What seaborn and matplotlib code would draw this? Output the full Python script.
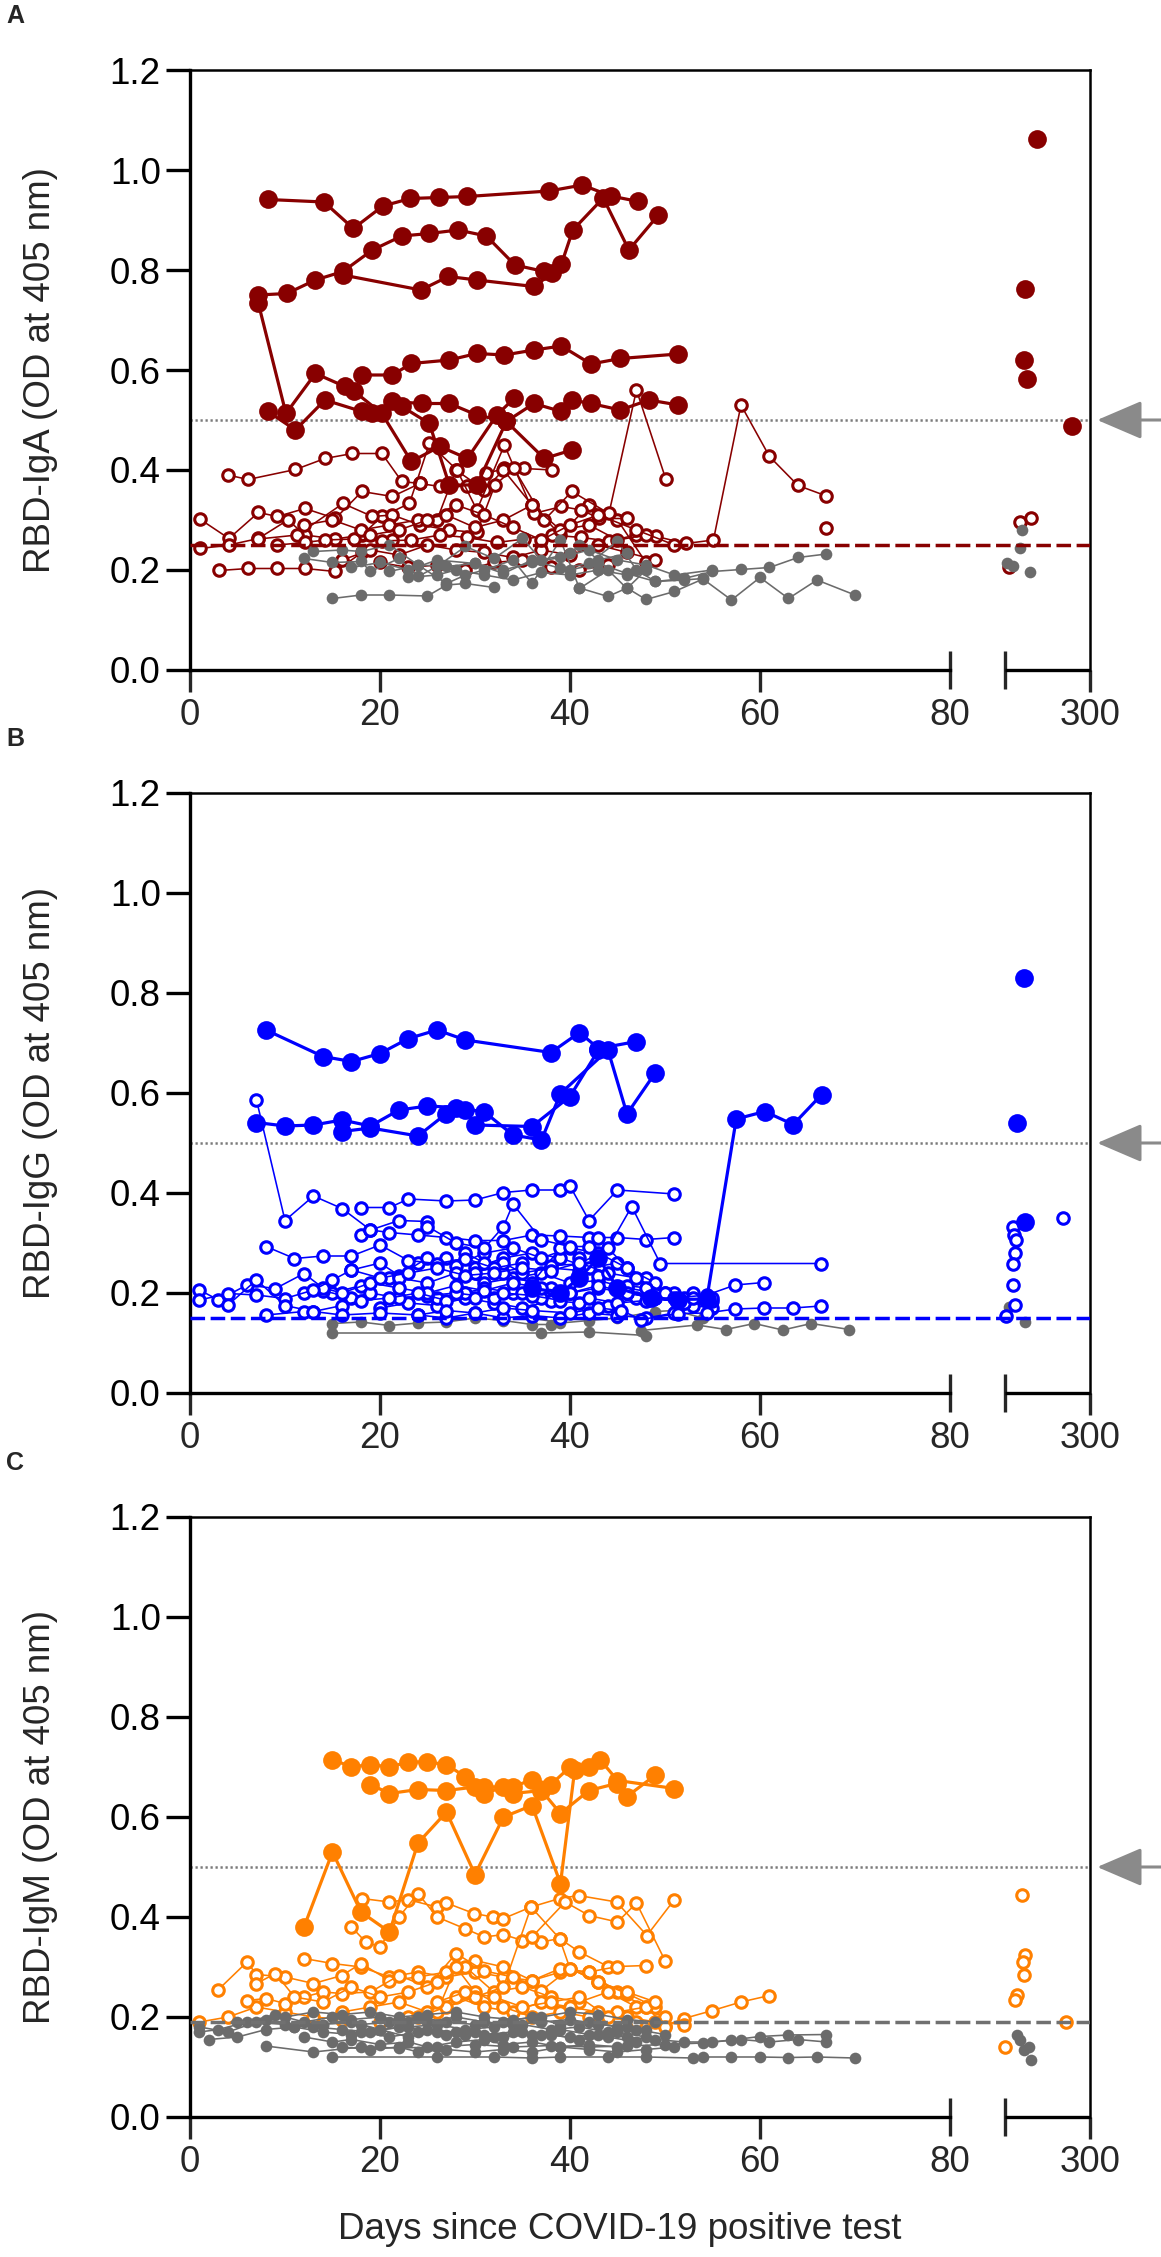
import numpy as np
import pandas as pd
import matplotlib
matplotlib.use("Agg")
import matplotlib.pyplot as plt
import seaborn as sns

# ---------------------------------------------------------------- data
# Panel A: RBD-IgA
IGA_FILLED_DAYS = [
    [8.2, 14.1, 17.2, 20.3, 23.2, 26.2, 29.2, 37.8, 41.3, 44.3, 47.2],
    [7.2, 10.2, 13.2, 16.1, 19.2, 22.3, 25.2, 28.2, 31.2, 34.2, 37.3, 39.1, 40.3, 43.5, 46.2, 49.3],
    [16.1, 24.3, 27.2, 30.2, 36.2, 38.1],
    [18.1, 21.3, 23.3, 27.3, 30.2, 33.1, 36.2, 39.1, 42.2, 45.3, 51.4],
    [7.2, 10.1, 13.2, 16.3, 17.3, 20.2, 23.3, 26.3, 29.2, 32.3, 34.1],
    [8.2, 11.1, 14.2, 18.1, 19.2, 21.3, 24.4, 27.3, 30.2, 33.3, 36.2, 39.1, 40.2, 42.2, 45.3, 48.3, 51.4],
    [22.3, 25.2, 27.3, 30.2, 33.3, 37.3, 40.2],
]
IGA_FILLED_OD = [
    [0.941, 0.936, 0.883, 0.928, 0.943, 0.945, 0.947, 0.958, 0.970, 0.948, 0.937],
    [0.750, 0.753, 0.780, 0.797, 0.840, 0.868, 0.873, 0.880, 0.868, 0.810, 0.797, 0.812, 0.880, 0.944, 0.840, 0.910],
    [0.790, 0.760, 0.787, 0.780, 0.767, 0.793],
    [0.590, 0.590, 0.613, 0.620, 0.633, 0.630, 0.640, 0.648, 0.612, 0.623, 0.632],
    [0.733, 0.513, 0.593, 0.567, 0.557, 0.513, 0.417, 0.447, 0.423, 0.510, 0.543],
    [0.517, 0.480, 0.540, 0.517, 0.513, 0.537, 0.533, 0.533, 0.510, 0.497, 0.533, 0.517, 0.540, 0.533, 0.520, 0.540, 0.530],
    [0.527, 0.493, 0.370, 0.370, 0.497, 0.423, 0.440],
]
IGA_OPEN_DAYS = [
    [4.0, 6.1, 11.1, 14.2, 17.1, 20.2, 22.3, 24.2],
    [1.1, 4.1, 7.2, 9.2, 12.1, 15.3, 18.1, 21.3, 24.2, 26.3, 29.2, 31.2, 33.1, 35.2, 38.1],
    [1.1, 4.1, 7.2, 10.3, 12.1, 15.3, 18.1, 20.2, 23.1, 25.2, 28.1, 30.2, 33.1, 36.2, 39.1, 41.2, 43.1, 46.0],
    [3.1, 6.1, 9.2, 12.1, 15.3, 18.1, 21.3],
    [7.2, 11.3, 16.1, 19.2, 21.3, 24.2, 27.3, 30.2, 32.1, 34.1, 37.3, 40.2, 44.1, 47.0, 50.1],
    [9.2, 12.1, 14.2, 17.3, 20.2, 23.3, 26.3, 29.2, 32.3, 35.2, 38.1, 41.2, 44.1, 47.0, 49.1, 52.2, 55.1, 58.0, 61.0, 64.0, 67.0],
    [12, 15, 18, 21, 24, 27, 30, 33, 36, 39, 42, 45, 48],
    [16, 19, 22, 25, 28, 31, 34, 37, 40, 43, 46, 49],
    [19, 22, 25, 28, 31, 34, 37, 40, 43, 47, 51],
    [20, 23, 26, 29, 32, 35, 38, 41, 44],
    [26, 28, 31, 33, 36, 39, 42, 45, 48],
    [67.0],
]
IGA_OPEN_OD = [
    [0.390, 0.381, 0.401, 0.423, 0.433, 0.433, 0.377, 0.373],
    [0.301, 0.263, 0.315, 0.307, 0.323, 0.303, 0.357, 0.347, 0.373, 0.367, 0.367, 0.393, 0.403, 0.403, 0.400],
    [0.243, 0.250, 0.263, 0.300, 0.270, 0.262, 0.270, 0.307, 0.333, 0.453, 0.400, 0.320, 0.450, 0.313, 0.327, 0.320, 0.303, 0.303],
    [0.199, 0.203, 0.203, 0.203, 0.197, 0.235, 0.260],
    [0.262, 0.270, 0.333, 0.307, 0.310, 0.290, 0.280, 0.275, 0.370, 0.403, 0.300, 0.357, 0.313, 0.560, 0.381],
    [0.250, 0.255, 0.260, 0.262, 0.258, 0.260, 0.270, 0.265, 0.255, 0.262, 0.270, 0.265, 0.258, 0.270, 0.267, 0.253, 0.260, 0.530, 0.427, 0.369, 0.348],
    [0.290, 0.300, 0.280, 0.290, 0.300, 0.310, 0.285, 0.300, 0.330, 0.280, 0.290, 0.260, 0.270],
    [0.220, 0.240, 0.230, 0.250, 0.240, 0.235, 0.225, 0.240, 0.230, 0.250, 0.235, 0.220],
    [0.270, 0.280, 0.300, 0.330, 0.310, 0.285, 0.260, 0.290, 0.310, 0.280, 0.250],
    [0.215, 0.205, 0.210, 0.200, 0.215, 0.220, 0.205, 0.200, 0.210],
    [0.300, 0.400, 0.360, 0.400, 0.330, 0.270, 0.330, 0.300, 0.215],
    [0.284],
]
IGA_CTRL_DAYS = [
    [40, 43, 46, 49, 52, 55, 58, 61, 64, 67],
    [41, 44, 46, 48, 51, 54, 57, 60, 63, 66, 70],
    [15, 18, 21, 25, 27, 29, 32],
    [13, 16, 18, 21, 24, 27, 30, 33, 36, 39, 42, 45, 47, 49, 52, 54],
    [12, 15, 18, 19, 22, 24, 26, 29, 32, 35, 37, 40, 41, 43, 46],
    [21, 24, 27, 29, 31, 34, 36, 39, 41, 44, 46, 48],
    [17, 20, 23, 26, 30, 33, 36, 39, 42, 45, 48, 51, 55],
    [23, 26, 28, 31, 34, 37, 40, 43, 46],
]
IGA_CTRL_OD = [
    [0.200, 0.213, 0.193, 0.177, 0.183, 0.197, 0.201, 0.205, 0.225, 0.232],
    [0.164, 0.147, 0.164, 0.141, 0.157, 0.182, 0.140, 0.185, 0.143, 0.180, 0.150],
    [0.143, 0.150, 0.150, 0.148, 0.170, 0.173, 0.165],
    [0.237, 0.240, 0.237, 0.250, 0.210, 0.207, 0.213, 0.193, 0.220, 0.203, 0.213, 0.257, 0.200, 0.177, 0.180, 0.183],
    [0.223, 0.215, 0.217, 0.197, 0.223, 0.187, 0.207, 0.247, 0.223, 0.263, 0.220, 0.233, 0.250, 0.220, 0.233],
    [0.197, 0.210, 0.173, 0.190, 0.200, 0.220, 0.173, 0.260, 0.163, 0.200, 0.163, 0.200],
    [0.205, 0.215, 0.200, 0.220, 0.213, 0.200, 0.215, 0.225, 0.240, 0.220, 0.210, 0.190, 0.200],
    [0.185, 0.190, 0.200, 0.190, 0.180, 0.195, 0.190, 0.200, 0.190],
]
IGA_LATE_FILLED_DAYS = [238, 224, 222, 226, 279]
IGA_LATE_FILLED_OD = [1.063, 0.762, 0.620, 0.582, 0.487]
IGA_LATE_OPEN_DAYS = [218, 231, 205]
IGA_LATE_OPEN_OD = [0.295, 0.303, 0.205]
IGA_LATE_CTRL_DAYS = [220, 218, 202, 210, 229]
IGA_LATE_CTRL_OD = [0.280, 0.243, 0.213, 0.207, 0.195]

# Panel B: RBD-IgG
IGG_FILLED_DAYS = [
    [8, 14, 17, 20, 23, 26, 29, 38, 41, 43, 47],
    [7, 10, 13, 16, 19, 22, 25, 28, 31, 34, 37, 39, 44, 46, 49],
    [16, 19, 24, 27, 29, 30, 36, 40, 43],
    [36, 39, 41, 43, 45, 48.5, 51.4, 54.4, 57.5, 60.5, 63.5, 66.5],
]
IGG_FILLED_OD = [
    [0.726, 0.673, 0.663, 0.679, 0.709, 0.726, 0.706, 0.681, 0.721, 0.689, 0.703],
    [0.541, 0.534, 0.536, 0.546, 0.534, 0.566, 0.574, 0.571, 0.562, 0.516, 0.506, 0.599, 0.686, 0.558, 0.641],
    [0.523, 0.530, 0.514, 0.559, 0.567, 0.536, 0.533, 0.593, 0.686],
    [0.210, 0.200, 0.230, 0.270, 0.210, 0.190, 0.187, 0.188, 0.548, 0.563, 0.537, 0.597],
]
IGG_OPEN_DAYS = [
    [18, 21, 23, 27, 30, 33, 36, 39, 40, 42, 45, 51],
    [18, 19, 21, 24, 27, 30, 33, 36, 39, 42, 45, 48, 51],
    [7, 10, 13, 16, 19, 22, 25],
    [8, 11, 14, 17, 20, 23, 26, 29, 32, 35],
    [25, 28, 31, 33, 34, 37, 40, 42],
    [38, 41, 44, 46.5, 49.5, 66.4],
    [1, 3, 6, 9, 12, 14, 16, 19, 22, 25, 28, 31, 34, 37, 40, 43, 46, 49, 52],
    [1, 4, 7, 10, 13, 15, 17, 20, 23, 26, 29, 32, 35, 38, 41, 44, 47, 50, 53],
    [4, 7, 10, 13, 16, 18, 21, 24, 27, 30, 33, 36, 39, 42, 45, 48, 51, 54.4, 57.4, 60.4],
    [8, 12, 13, 16, 20, 24, 27, 30, 33, 36, 40, 43, 45.4, 47.5, 51.4, 54.4, 57.4, 60.4, 63.5, 66.4],
    [15, 18, 21, 24, 27, 30, 33, 36, 39, 42, 45, 48],
    [17, 20, 22, 25, 28, 31, 34, 37, 40, 43, 46],
    [20, 23, 26, 29, 32, 35, 38, 41, 44, 47, 50, 53, 55],
    [22, 25, 28, 31, 34, 37, 40, 43, 46, 49, 52],
    [24, 27, 30, 33, 36, 39, 42, 45, 48, 51],
    [26, 29, 31, 34, 37, 40, 43, 46, 49, 52, 55],
    [29, 31, 33, 36, 39, 41, 43, 46, 49],
    [12, 14, 17, 19, 22, 25, 28, 32, 35, 38],
    [30, 33, 35, 38, 41, 43, 46, 48, 51, 53, 55],
]
IGG_OPEN_OD = [
    [0.371, 0.371, 0.388, 0.384, 0.386, 0.401, 0.406, 0.406, 0.414, 0.345, 0.406, 0.398],
    [0.316, 0.326, 0.321, 0.316, 0.311, 0.305, 0.305, 0.316, 0.314, 0.311, 0.311, 0.307, 0.311],
    [0.586, 0.345, 0.394, 0.369, 0.326, 0.345, 0.343],
    [0.293, 0.269, 0.274, 0.274, 0.296, 0.265, 0.259, 0.269, 0.250, 0.260],
    [0.333, 0.300, 0.290, 0.333, 0.378, 0.306, 0.293, 0.293],
    [0.255, 0.258, 0.290, 0.373, 0.259, 0.259],
    [0.206, 0.186, 0.216, 0.209, 0.239, 0.210, 0.200, 0.220, 0.210, 0.200, 0.215, 0.205, 0.220, 0.210, 0.200, 0.215, 0.200, 0.190, 0.180],
    [0.186, 0.199, 0.196, 0.189, 0.206, 0.226, 0.246, 0.230, 0.240, 0.250, 0.235, 0.240, 0.250, 0.245, 0.260, 0.240, 0.230, 0.200, 0.190],
    [0.176, 0.226, 0.175, 0.163, 0.175, 0.185, 0.190, 0.200, 0.185, 0.190, 0.200, 0.195, 0.185, 0.190, 0.180, 0.185, 0.190, 0.196, 0.216, 0.221],
    [0.156, 0.163, 0.163, 0.156, 0.160, 0.156, 0.165, 0.160, 0.170, 0.165, 0.160, 0.170, 0.165, 0.147, 0.159, 0.160, 0.168, 0.170, 0.170, 0.174],
    [0.200, 0.215, 0.230, 0.260, 0.270, 0.250, 0.270, 0.280, 0.270, 0.250, 0.260, 0.230],
    [0.246, 0.260, 0.235, 0.270, 0.255, 0.280, 0.290, 0.270, 0.290, 0.280, 0.250],
    [0.170, 0.180, 0.175, 0.190, 0.180, 0.170, 0.185, 0.180, 0.175, 0.190, 0.200, 0.175, 0.170],
    [0.230, 0.220, 0.240, 0.220, 0.230, 0.240, 0.220, 0.225, 0.210, 0.200, 0.190],
    [0.156, 0.150, 0.160, 0.150, 0.155, 0.150, 0.160, 0.155, 0.150, 0.160],
    [0.190, 0.200, 0.210, 0.200, 0.190, 0.200, 0.210, 0.200, 0.190, 0.180, 0.185],
    [0.280, 0.260, 0.240, 0.220, 0.290, 0.270, 0.310, 0.250, 0.220],
    [0.200, 0.205, 0.190, 0.200, 0.190, 0.195, 0.200, 0.190, 0.200, 0.210],
    [0.240, 0.260, 0.240, 0.250, 0.245, 0.235, 0.215, 0.210, 0.200, 0.200, 0.190],
]
IGG_CTRL_DAYS = [
    [15, 37, 42, 48],
    [47.5, 53.4, 56.4, 59.4, 62.4, 65.4, 69.4],
    [15, 18, 21, 24, 27, 30, 33, 36, 38, 39],
    [36, 39, 42, 45, 49, 51, 54],
]
IGG_CTRL_OD = [
    [0.120, 0.120, 0.122, 0.115],
    [0.125, 0.136, 0.127, 0.139, 0.126, 0.139, 0.127],
    [0.139, 0.142, 0.135, 0.140, 0.142, 0.150, 0.145, 0.137, 0.137, 0.152],
    [0.150, 0.140, 0.145, 0.150, 0.163, 0.165, 0.150],
]
IGG_LATE_FILLED_DAYS = [222, 214, 224]
IGG_LATE_FILLED_OD = [0.830, 0.540, 0.343]
IGG_LATE_OPEN_DAYS = [209, 211, 213, 212, 210, 209, 212, 201, 268]
IGG_LATE_OPEN_OD = [0.333, 0.316, 0.306, 0.281, 0.259, 0.216, 0.176, 0.154, 0.350]
IGG_LATE_CTRL_DAYS = [205, 224]
IGG_LATE_CTRL_OD = [0.173, 0.143]

# Panel C: RBD-IgM
IGM_FILLED_DAYS = [
    [15, 17, 19, 21, 23, 25, 27, 29, 31, 34, 36, 38, 40, 42, 43.2, 45, 51],
    [19, 21, 24, 27, 30, 31, 33, 34, 37, 39, 42, 44.9, 46, 49],
    [12, 15, 18, 21, 24, 27, 30, 33, 36, 39, 40.5],
]
IGM_FILLED_OD = [
    [0.715, 0.700, 0.705, 0.700, 0.710, 0.710, 0.705, 0.680, 0.660, 0.660, 0.675, 0.665, 0.700, 0.700, 0.714, 0.673, 0.657],
    [0.665, 0.647, 0.655, 0.653, 0.660, 0.647, 0.660, 0.647, 0.653, 0.607, 0.653, 0.667, 0.641, 0.684],
    [0.380, 0.530, 0.410, 0.370, 0.548, 0.610, 0.485, 0.600, 0.623, 0.467, 0.695],
]
IGM_OPEN_DAYS = [
    [18.1, 21, 22.9, 26, 27, 29.9, 31.9, 33, 35.9, 38.9, 40.9, 44.9, 48.1, 51],
    [17, 18.5, 20, 22, 24, 26, 28.9, 31, 33, 35, 37, 38.9, 41, 44],
    [12, 15, 18, 21, 24, 27, 30, 33, 36, 39, 42, 45, 48, 50, 52, 55, 58, 61],
    [3, 6, 7, 10, 13, 16, 18, 21, 24, 27, 30, 33, 36, 39, 42, 45, 48],
    [6, 8, 10, 12, 14, 16, 19, 22, 25, 28, 31, 34, 37, 40, 43, 46, 49],
    [7, 9, 11, 14, 17, 20, 23, 26, 29, 32, 35, 38, 41, 44, 47, 50],
    [16, 19, 22, 25, 28, 31, 34, 37, 40, 43, 46, 49, 52],
    [20, 23, 26, 28, 30, 33, 36, 39, 42, 45, 48],
    [24, 27, 30, 33, 35.9, 38.9, 40, 43, 46, 49],
    [26, 29, 32, 35, 38, 41, 44, 47, 50],
    [1, 4, 7, 10, 13, 16],
    [36, 39.5, 42, 45, 47, 50],
]
IGM_OPEN_OD = [
    [0.437, 0.430, 0.435, 0.420, 0.428, 0.407, 0.400, 0.397, 0.420, 0.437, 0.443, 0.430, 0.363, 0.435],
    [0.380, 0.350, 0.340, 0.400, 0.447, 0.400, 0.377, 0.360, 0.365, 0.353, 0.350, 0.357, 0.330, 0.301],
    [0.317, 0.307, 0.300, 0.280, 0.290, 0.280, 0.290, 0.280, 0.273, 0.290, 0.290, 0.250, 0.220, 0.183, 0.197, 0.213, 0.230, 0.243],
    [0.255, 0.310, 0.285, 0.280, 0.267, 0.283, 0.307, 0.273, 0.280, 0.290, 0.313, 0.300, 0.273, 0.297, 0.290, 0.301, 0.303],
    [0.233, 0.237, 0.227, 0.240, 0.250, 0.247, 0.250, 0.283, 0.260, 0.327, 0.292, 0.280, 0.253, 0.297, 0.270, 0.247, 0.220],
    [0.267, 0.287, 0.240, 0.230, 0.260, 0.240, 0.250, 0.270, 0.300, 0.250, 0.260, 0.240, 0.230, 0.250, 0.220, 0.200],
    [0.210, 0.220, 0.230, 0.210, 0.240, 0.220, 0.210, 0.230, 0.220, 0.210, 0.200, 0.190, 0.185],
    [0.190, 0.200, 0.210, 0.300, 0.250, 0.220, 0.200, 0.210, 0.200, 0.210, 0.220],
    [0.200, 0.220, 0.240, 0.260, 0.420, 0.357, 0.297, 0.270, 0.250, 0.230],
    [0.230, 0.250, 0.240, 0.220, 0.230, 0.240, 0.200, 0.190, 0.180],
    [0.190, 0.200, 0.220, 0.210, 0.200, 0.195],
    [0.360, 0.430, 0.403, 0.390, 0.428, 0.313],
]
IGM_CTRL_DAYS = [
    [15, 26, 32, 36, 39, 44, 48, 53, 54, 57, 60, 63, 66, 70],
    [8, 13, 18, 22, 26, 30, 34, 38, 42, 46, 50, 54, 57, 60, 63, 67],
    [1, 4, 7, 10, 13, 16, 19, 22, 25, 28, 31, 34, 37, 40, 43, 46, 49, 52, 55, 58, 61, 64, 67],
    [1, 3, 6, 9, 12, 15, 18, 21, 24, 27, 30, 33, 36, 39, 42, 45, 48],
    [2, 5, 8, 11, 14, 17, 20, 23, 26, 29, 32, 35, 38, 41, 44, 47],
    [10, 13, 16, 19, 22, 25, 28, 31, 34, 37, 40, 43, 46, 49],
    [12, 15, 17, 20, 23, 25, 28, 31, 33, 36, 39, 42, 45],
    [14, 17, 20, 23, 26, 29, 32, 35, 38, 41, 44, 47, 50],
    [16, 19, 22, 24, 27, 30, 33, 36, 39, 42, 45, 48, 51],
    [18, 21, 24, 27, 30, 33, 36, 39, 42, 45, 48],
    [5, 8, 11, 14, 17, 20, 23],
    [22, 25, 28, 31, 34, 37, 40, 43, 46],
]
IGM_CTRL_OD = [
    [0.120, 0.120, 0.120, 0.118, 0.120, 0.120, 0.120, 0.118, 0.120, 0.120, 0.120, 0.119, 0.120, 0.118],
    [0.142, 0.130, 0.140, 0.138, 0.140, 0.145, 0.140, 0.143, 0.140, 0.142, 0.145, 0.148, 0.154, 0.161, 0.164, 0.165],
    [0.180, 0.170, 0.190, 0.185, 0.180, 0.175, 0.170, 0.180, 0.175, 0.170, 0.165, 0.170, 0.165, 0.160, 0.165, 0.160, 0.155, 0.150, 0.150, 0.155, 0.150, 0.155, 0.150],
    [0.170, 0.175, 0.190, 0.205, 0.190, 0.200, 0.185, 0.190, 0.200, 0.190, 0.185, 0.190, 0.200, 0.185, 0.190, 0.180, 0.175],
    [0.155, 0.160, 0.175, 0.180, 0.170, 0.165, 0.175, 0.160, 0.170, 0.165, 0.160, 0.170, 0.165, 0.155, 0.160, 0.150],
    [0.200, 0.210, 0.205, 0.210, 0.200, 0.205, 0.210, 0.200, 0.195, 0.200, 0.210, 0.205, 0.195, 0.190],
    [0.160, 0.150, 0.155, 0.145, 0.150, 0.140, 0.150, 0.155, 0.145, 0.150, 0.140, 0.145, 0.140],
    [0.185, 0.190, 0.175, 0.180, 0.185, 0.175, 0.180, 0.185, 0.175, 0.180, 0.170, 0.175, 0.165],
    [0.140, 0.135, 0.140, 0.130, 0.135, 0.130, 0.135, 0.130, 0.140, 0.135, 0.130, 0.135, 0.140],
    [0.170, 0.160, 0.170, 0.165, 0.170, 0.160, 0.165, 0.175, 0.165, 0.170, 0.160],
    [0.190, 0.195, 0.180, 0.185, 0.195, 0.200, 0.190],
    [0.195, 0.190, 0.200, 0.190, 0.185, 0.190, 0.195, 0.185, 0.180],
]
IGM_LATE_OPEN_DAYS = [220, 223, 221, 222, 214, 212, 200, 272]
IGM_LATE_OPEN_OD = [0.445, 0.325, 0.310, 0.285, 0.245, 0.235, 0.140, 0.190]
IGM_LATE_CTRL_DAYS = [214, 218, 228, 222, 231]
IGM_LATE_CTRL_OD = [0.165, 0.155, 0.140, 0.135, 0.115]

POSITIVITY_CUTOFF = 0.5
BACKGROUND_CUTOFFS = [0.25, 0.15, 0.19]
Y_TICKS = [0.0, 0.2, 0.4, 0.6, 0.8, 1.0, 1.2]
X_MAJOR_TICKS = [0, 20, 40, 60, 300]
X_MINOR_TICKS = [80, 200]
YLABELS = ["RBD-IgA (OD at 405 nm)", "RBD-IgG (OD at 405 nm)", "RBD-IgM (OD at 405 nm)"]
PANEL_LETTERS = ["A", "B", "C"]
XLABEL = "Days since COVID-19 positive test"

# ---------------------------------------------------------------- style
sns.set_style("ticks")
plt.rcParams["font.family"] = ["Liberation Sans", "DejaVu Sans"]
FS = 26.5
GRAY = "#6b6b6b"
COLORS = ["#880000", "#0000ff", "#ff8000"]
DASH_COLORS = ["#880000", "#0000ff", "#707070"]

W, H = 1161, 2257
fig = plt.figure(figsize=(W / 100, H / 100), dpi=100)

# broken x axis: 0-80 days, gap, 200-300 days
BRK_D = [-100, 0, 80, 200, 300, 400]
BRK_U = [-100, 0, 80, 85.79, 94.74, 103.69]


def fwd(x):
    return np.interp(x, BRK_D, BRK_U)


def inv(u):
    return np.interp(u, BRK_U, BRK_D)


def to_frame(days, ods, tag):
    rows = []
    for i, (d, v) in enumerate(zip(days, ods)):
        if len(d) != len(v):
            raise ValueError(f"{tag}{i}: {len(d)} vs {len(v)}")
        rows += [(f"{tag}{i}", x, y) for x, y in zip(d, v)]
    return pd.DataFrame(rows, columns=["subject", "day", "od"])


def singles(days, ods, tag):
    return to_frame([[d] for d in days], [[v] for v in ods], tag)


def filled_style(c):
    return dict(color=c, linewidth=2.3, marker="o", markersize=13.5,
                markerfacecolor=c, markeredgecolor=c, markeredgewidth=0)


def open_style(c):
    return dict(color=c, linewidth=1.15, marker="o", markersize=8.3,
                markerfacecolor="white", markeredgecolor=c, markeredgewidth=2.2)


CTRL_STYLE = dict(color=GRAY, linewidth=1.15, marker="o", markersize=8.4,
                  markerfacecolor=GRAY, markeredgecolor=GRAY, markeredgewidth=0)


def draw(ax, df, style, z):
    sns.lineplot(data=df, x="day", y="od", units="subject", estimator=None,
                 sort=False, legend=False, ax=ax, zorder=z, **style)


panels = [
    dict(top=70, fd=IGA_FILLED_DAYS, fo=IGA_FILLED_OD, od=IGA_OPEN_DAYS, oo=IGA_OPEN_OD,
         cd=IGA_CTRL_DAYS, co=IGA_CTRL_OD,
         lfd=IGA_LATE_FILLED_DAYS, lfo=IGA_LATE_FILLED_OD,
         lod=IGA_LATE_OPEN_DAYS, loo=IGA_LATE_OPEN_OD,
         lcd=IGA_LATE_CTRL_DAYS, lco=IGA_LATE_CTRL_OD, zo=(2, 3)),
    dict(top=793, fd=IGG_FILLED_DAYS, fo=IGG_FILLED_OD, od=IGG_OPEN_DAYS, oo=IGG_OPEN_OD,
         cd=IGG_CTRL_DAYS, co=IGG_CTRL_OD,
         lfd=IGG_LATE_FILLED_DAYS, lfo=IGG_LATE_FILLED_OD,
         lod=IGG_LATE_OPEN_DAYS, loo=IGG_LATE_OPEN_OD,
         lcd=IGG_LATE_CTRL_DAYS, lco=IGG_LATE_CTRL_OD, zo=(3, 2)),
    dict(top=1517, fd=IGM_FILLED_DAYS, fo=IGM_FILLED_OD, od=IGM_OPEN_DAYS, oo=IGM_OPEN_OD,
         cd=IGM_CTRL_DAYS, co=IGM_CTRL_OD,
         lfd=[], lfo=[],
         lod=IGM_LATE_OPEN_DAYS, loo=IGM_LATE_OPEN_OD,
         lcd=IGM_LATE_CTRL_DAYS, lco=IGM_LATE_CTRL_OD, zo=(2, 3)),
]

for k, p in enumerate(panels):
    top = p["top"]
    ax = fig.add_axes([190 / W, 1 - (top + 600) / H, 900 / W, 600 / H])
    col = COLORS[k]
    z_open, z_ctrl = p["zo"]

    draw(ax, pd.concat([to_frame(p["cd"], p["co"], "c"),
                        singles(p["lcd"], p["lco"], "lc")]), CTRL_STYLE, z_ctrl)
    draw(ax, pd.concat([to_frame(p["od"], p["oo"], "o"),
                        singles(p["lod"], p["loo"], "lo")]), open_style(col), z_open)
    fdf = to_frame(p["fd"], p["fo"], "f")
    if p["lfd"]:
        fdf = pd.concat([fdf, singles(p["lfd"], p["lfo"], "lf")])
    draw(ax, fdf, filled_style(col), 4)

    # reference lines
    ax.axhline(POSITIVITY_CUTOFF, color="#7a7a7a", lw=1.8, ls=(0, (0.9, 1.1)), zorder=1.5)
    ax.axhline(BACKGROUND_CUTOFFS[k], color=DASH_COLORS[k], lw=2.5,
               ls=(0, (4.2, 1.6)), zorder=3.5)

    # broken x scale
    ax.set_xscale("function", functions=(fwd, inv))
    ax.set_xlim(0, 300)
    ax.set_ylim(0, 1.2)

    ax.set_yticks(Y_TICKS)
    ax.set_yticklabels([f"{t:.1f}" for t in Y_TICKS])
    ax.set_xticks(X_MAJOR_TICKS)
    ax.set_xticklabels([str(t) for t in X_MAJOR_TICKS])
    ax.set_xticks(X_MINOR_TICKS, minor=True)
    ax.set_xticklabels(["80", ""], minor=True)
    ax.tick_params(axis="y", direction="out", length=17, width=2.4,
                   labelsize=FS, pad=4, colors="black")
    ax.tick_params(axis="x", which="major", direction="out", length=16, width=2.4,
                   labelsize=FS, pad=4)
    ax.tick_params(axis="x", which="minor", direction="inout", length=28, width=2.4,
                   labelsize=FS, pad=6)

    for s in ["top", "right"]:
        ax.spines[s].set_visible(True)
        ax.spines[s].set_linewidth(1.8)
        ax.spines[s].set_color("black")
    ax.spines["left"].set_linewidth(2.4)
    ax.spines["left"].set_color("black")
    ax.spines["bottom"].set_linewidth(2.4)
    ax.spines["bottom"].set_color("black")
    ax.spines["bottom"].set_bounds(0, 80)
    ax.plot([200, 300], [0, 0], color="black", lw=2.4, solid_capstyle="butt",
            clip_on=False, zorder=6)

    ax.set_ylabel(YLABELS[k], fontsize=FS)
    ax.yaxis.set_label_coords(-0.147, 0.5)
    if k == 2:
        ax.set_xlabel(XLABEL, fontsize=FS)
        ax.xaxis.set_label_coords(0.477, -0.158)
    else:
        ax.set_xlabel("")

    # cutoff arrow on the right
    tr = ax.get_yaxis_transform()
    ax.annotate("", xy=(1.008, POSITIVITY_CUTOFF), xycoords=tr,
                xytext=(1.08, POSITIVITY_CUTOFF), textcoords=tr,
                arrowprops=dict(arrowstyle="-|>,head_length=2.8,head_width=1.2",
                                color="#8a8a8a", lw=2.2, shrinkA=0, shrinkB=0,
                                mutation_scale=10),
                annotation_clip=False)

    fig.text(6 / W, 1 - (top - 66) / H, PANEL_LETTERS[k], fontsize=18,
             fontweight="bold", va="top", ha="left")

fig.savefig("out.png", dpi=100)
